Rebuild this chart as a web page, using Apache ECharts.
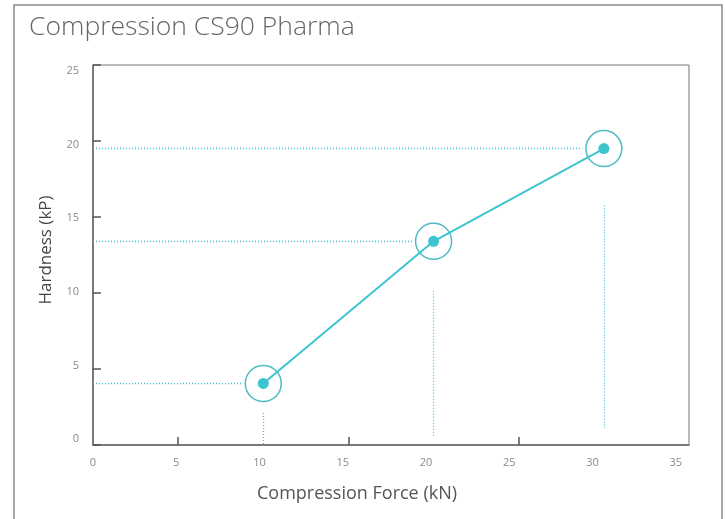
<!DOCTYPE html>
<html><head><meta charset="utf-8">
<script src="https://cdn.jsdelivr.net/npm/echarts@6/dist/echarts.min.js"></script>
<style>html,body{margin:0;padding:0;background:#fff}#c{width:725px;height:519px}</style>
</head><body><div id="c"></div>
<script>
// Data
const force = [10, 20, 30];            // Compression Force (kN)
const hardness = [4.05, 13.4, 19.5];   // Hardness (kP)
const dropTop = [2.1, 10.15, 15.75];   // top of vertical dotted guides (kP)
const dropBottom = [0, 0.55, 1.1];     // bottom of vertical dotted guides (kP)
const xTickLabels = [0, 5, 10, 15, 20, 25, 30, 35];
const yTickLabels = [0, 5, 10, 15, 20, 25];
const xTickMarks = [5, 15, 25];
const guideGap = 1.25; // horizontal guide stops short of ring (kN)

const teal = '#3cc4cf';
const ring = '#22aab6';
const points = force.map((x, i) => [x, hardness[i]]);

const hGuides = force.map((x, i) => [{coord: [0, hardness[i]]}, {coord: [x - guideGap, hardness[i]]}]);
const vGuides = force.map((x, i) => [{coord: [x, dropTop[i]]}, {coord: [x, dropBottom[i]]}]);

const chart = echarts.init(document.getElementById('c'));
chart.setOption({
  animation: false,
  title: {
    text: 'Compression CS90 Pharma',
    left: 24, top: 9,
    textStyle: {fontFamily: 'Open Sans', fontWeight: 300, fontSize: 26.5, color: '#666'}
  },
  graphic: [{
    type: 'rect', silent: true,
    shape: {x: 14, y: 5, width: 708, height: 540},
    style: {fill: 'none', stroke: '#8a8a8a', lineWidth: 1.5}
  }],
  grid: {left: 93, right: 36, top: 65, bottom: 74, show: true, borderColor: '#777', borderWidth: 1},
  xAxis: [{
    type: 'value', min: 0, max: 35, interval: 5,
    axisLine: {show: true, lineStyle: {color: '#666', width: 1.5}},
    axisTick: {show: true, inside: true, length: 8, customValues: xTickMarks, lineStyle: {color: '#555', width: 1.5}},
    axisLabel: {show: false},
    splitLine: {show: false}
  }, {
    type: 'value', min: 0, max: 35.8, position: 'bottom',
    axisLine: {show: false}, axisTick: {show: false}, splitLine: {show: false},
    axisLabel: {customValues: xTickLabels, margin: 12, color: '#8a8a8a', fontSize: 11, fontFamily: 'Open Sans'},
    name: 'Compression Force (kN)', nameLocation: 'middle', nameGap: 40,
    nameTextStyle: {fontFamily: 'Open Sans', fontSize: 18, color: '#555', padding: [0, 68, 0, 0]}
  }],
  yAxis: [{
    type: 'value', min: 0, max: 25, interval: 5,
    axisLine: {show: true, lineStyle: {color: '#666', width: 1.5}},
    axisTick: {show: true, inside: true, length: 8, lineStyle: {color: '#555', width: 1.5}},
    axisLabel: {show: false},
    splitLine: {show: false},
    name: 'Hardness (kP)', nameLocation: 'middle', nameGap: 38,
    nameTextStyle: {fontFamily: 'Open Sans', fontSize: 17, color: '#444', padding: [0, 0, 0, 10]}
  }, {
    type: 'value', min: -0.41, max: 25.41, position: 'left',
    axisLine: {show: false}, axisTick: {show: false}, splitLine: {show: false},
    axisLabel: {customValues: yTickLabels, margin: 14, color: '#8a8a8a', fontSize: 11, fontFamily: 'Open Sans'}
  }],
  series: [{
    type: 'line', data: points, xAxisIndex: 0, yAxisIndex: 0,
    symbol: 'circle', symbolSize: 11, z: 5,
    lineStyle: {color: teal, width: 2},
    itemStyle: {color: teal},
    markLine: {
      silent: true, symbol: 'none', label: {show: false},
      lineStyle: {color: teal, width: 1.3, type: [1, 2]},
      emphasis: {disabled: true},
      data: hGuides.concat(vGuides)
    }
  }, {
    type: 'scatter', data: points, xAxisIndex: 0, yAxisIndex: 0,
    symbol: 'circle', symbolSize: 36, z: 4,
    itemStyle: {color: 'rgba(0,0,0,0)', borderColor: ring, borderWidth: 1.5}
  }]
});
</script></body></html>
